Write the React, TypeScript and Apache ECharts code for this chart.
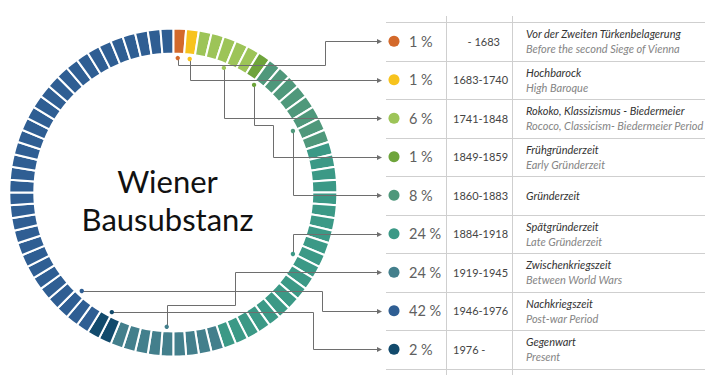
import React, { useEffect, useRef } from "react";
import * as echarts from "echarts";

// ---- data ----
const periodsDe = [
  "Vor der Zweiten Türkenbelagerung",
  "Hochbarock",
  "Rokoko, Klassizismus - Biedermeier",
  "Frühgründerzeit",
  "Gründerzeit",
  "Spätgründerzeit",
  "Zwischenkriegszeit",
  "Nachkriegszeit",
  "Gegenwart",
];
const periodsEn = [
  "Before the second Siege of Vienna",
  "High Baroque",
  "Rococo, Classicism- Biedermeier Period",
  "Early Gründerzeit",
  "",
  "Late Gründerzeit",
  "Between World Wars",
  "Post-war Period",
  "Present",
];
const years = ["- 1683", "1683-1740", "1741-1848", "1849-1859", "1860-1883", "1884-1918", "1919-1945", "1946-1976", "1976 -"];
const shares = [1, 1, 6, 1, 8, 24, 24, 42, 2];
const colors = ["#d3692b", "#f7c31d", "#9dc458", "#6ea43b", "#4f987b", "#3b9986", "#437f8c", "#2f5e93", "#124a6c"];
// ring, clockwise from 12 o'clock: period index and number of segments
const ringOrder = [0, 1, 2, 3, 4, 5, 6, 8, 7];
const ringSegments = [1, 1, 5, 1, 8, 20, 9, 2, 33];
// anchor dot angle (deg, clockwise from 12 o'clock) per period
const dotAngles = [1.9, 7.0, 22.1, 36.9, 62.8, 117.2, 182.8, 222.9, 207.2];
const titleLines = ["Wiener", "Bausubstanz"];

// ---- layout ----
const CX = 173.3;
const CY = 192.5;
const R_IN = 139;
const R_OUT = 164;
const R_DOT = 134.5;
const TABLE_TOP = 22;
const ROW_H = 38.5;
const ARROW_X = 382;
// leader routing: first leg level (y) and elbow x; null = go straight
const legY: (number | null)[] = [65, null, null, 125, null, null, 305, -1, -1];
const legX: (number | null)[] = [325, null, null, 273, null, null, 235, 322, 313];

export default function App() {
  const ref = useRef<HTMLDivElement>(null);
  useEffect(() => {
    if (!ref.current) return;
    const chart = echarts.init(ref.current, undefined, { renderer: "svg" });

    const ringData: any[] = [];
    ringOrder.forEach((p, k) => {
      for (let j = 0; j < ringSegments[k]; j++) {
        ringData.push({ value: 1, name: periodsDe[p], itemStyle: { color: colors[p] } });
      }
    });

    const lineColor = "#6e6e6e";
    const g: any[] = [];
    const rowY = (i: number) => TABLE_TOP + ROW_H * i + ROW_H / 2;

    // table grid
    for (let i = 0; i <= periodsDe.length; i++) {
      const y = Math.round(TABLE_TOP + ROW_H * i) + 0.5;
      g.push({ type: "line", z: 5, shape: { x1: 386, y1: y, x2: 705, y2: y }, style: { stroke: "#cfcfcf", lineWidth: 1 } });
    }
    [446.5, 512.5].forEach((x) => {
      g.push({ type: "line", z: 5, shape: { x1: x, y1: 16, x2: x, y2: 375 }, style: { stroke: "#cfcfcf", lineWidth: 1 } });
    });

    periodsDe.forEach((de, i) => {
      const ry = rowY(i);
      // leader
      const a = (dotAngles[i] * Math.PI) / 180;
      const dx = CX + R_DOT * Math.sin(a);
      const dy = CY - R_DOT * Math.cos(a);
      const pts: number[][] = [[dx, dy]];
      const ly = legY[i];
      const lx = legX[i];
      if (ly === null) {
        pts.push([dx, ry]);
      } else {
        const yy = ly < 0 ? dy : ly;
        pts.push([dx, yy]);
        pts.push([lx as number, yy]);
        pts.push([lx as number, ry]);
      }
      pts.push([ARROW_X - 4, ry]);
      g.push({ type: "polyline", z: 20, shape: { points: pts.map((p) => [Math.round(p[0]) + 0.5, Math.round(p[1]) + 0.5]) }, style: { stroke: lineColor, lineWidth: 1, fill: null } });
      const ay = Math.round(ry) + 0.5;
      g.push({ type: "polygon", z: 20, shape: { points: [[ARROW_X - 5, ay - 2.5], [ARROW_X, ay], [ARROW_X - 5, ay + 2.5]] }, style: { fill: lineColor } });
      g.push({ type: "circle", z: 21, shape: { cx: dx, cy: dy, r: 2.2 }, style: { fill: colors[i] } });

      // legend dot + share
      g.push({ type: "circle", z: 20, shape: { cx: 394, cy: ry, r: 5.5 }, style: { fill: colors[i] } });
      g.push({ type: "text", z: 20, x: 409, y: ry, style: { text: shares[i] + " %", font: "14.5px Lato", fill: "#606060", align: "left", verticalAlign: "middle" } });
      // years
      const yr = years[i];
      const rightAlign = yr.startsWith("-");
      g.push({ type: "text", z: 20, x: rightAlign ? 500 : 453, y: ry, style: { text: yr, font: "11px Lato", fill: "#444", align: rightAlign ? "right" : "left", verticalAlign: "middle" } });
      // names
      const en = periodsEn[i];
      g.push({ type: "text", z: 20, x: 526, y: en ? ry - 7.5 : ry, style: { text: de, font: "italic 11px Lato", fill: "#333", align: "left", verticalAlign: "middle" } });
      if (en) {
        g.push({ type: "text", z: 20, x: 526, y: ry + 7.5, style: { text: en, font: "italic 11px Lato", fill: "#858585", align: "left", verticalAlign: "middle" } });
      }
    });

    // title
    titleLines.forEach((t, k) => {
      g.push({ type: "text", z: 20, x: 167.5, y: 181 + 38 * k, style: { text: t, font: "31px Lato", fill: "#111", align: "center", verticalAlign: "middle" } });
    });

    chart.setOption({
      animation: false,
      backgroundColor: "#ffffff",
      series: [
        {
          type: "pie",
          center: [CX, CY],
          radius: [R_IN, R_OUT],
          startAngle: 90,
          clockwise: true,
          silent: true,
          label: { show: false },
          labelLine: { show: false },
          itemStyle: { borderColor: "#ffffff", borderWidth: 2 },
          data: ringData,
        },
      ],
      graphic: { elements: g },
    });
    return () => chart.dispose();
  }, []);
  return <div ref={ref} style={{ position: "fixed", left: 0, top: 0, width: 716, height: 375 }} />;
}
